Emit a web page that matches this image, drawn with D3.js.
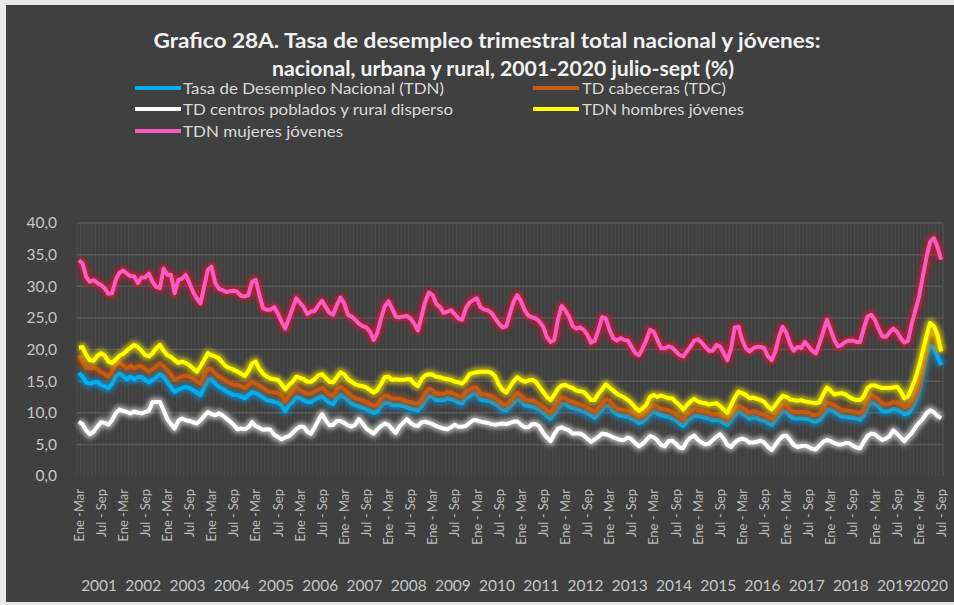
<!DOCTYPE html>
<html>
<head>
<meta charset="utf-8">
<script src="https://cdn.jsdelivr.net/npm/d3@7"></script>
<style>
  body { margin: 0; background: #ffffff; }
  svg { display: block; }
  text { font-family: Lato, "Open Sans", sans-serif; }
</style>
</head>
<body>
<div id="chart"></div>
<script>
// trimestres móviles, Ene-Mar 2001 ... Jul-Sep 2020 (235 puntos)
const years = ["2001","2002","2003","2004","2005","2006","2007","2008","2009","2010",
  "2011","2012","2013","2014","2015","2016","2017","2018","2019","2020"];

// one label every 6 periods
const tickLabels = [
  "Ene -Mar","Jul - Sep","Ene -Mar","Jul - Sep","Ene -Mar","Jul - Sep","Ene -Mar","Jul - Sep",
  "Ene -Mar","Jul - Sep","Ene -Mar","Jul - Sep","Ene - Mar","Jul - Sep","Ene - Mar","Jul - Sep",
  "Ene - Mar","Jul - Sep","Ene - Mar","Jul - Sep","Ene - Mar","Jul - Sep","Ene - Mar","Jul - Sep",
  "Ene - Mar","Jul - Sep","Ene - Mar","Jul - Sep","Ene - Mar","Jul - Sep","Ene - Mar","Jul - Sep",
  "Ene - Mar","Jul - Sep","Ene - Mar","Jul - Sep","Ene - Mar","Jul - Sep","Ene - Mar","Jul - Sep"
];

const tdn = [
  16.3,15.7,14.8,14.6,14.8,14.9,14.4,14.2,13.9,14.6,15.8,16.2,
  15.8,15.3,15.7,15.3,15.6,15.7,15.2,14.8,15.2,15.6,16.1,15.7,
  14.9,14.1,13.3,13.7,13.9,14.1,13.9,13.6,13.2,12.8,14.1,15.2,
  15.3,14.6,14.1,13.8,13.4,13.1,12.8,12.8,12.6,12.3,12.8,13.3,
  13.1,12.8,12.4,12.0,11.9,11.7,11.6,11.2,10.3,11.2,11.7,12.5,
  12.3,12.0,11.7,11.7,12.1,12.4,12.6,12.1,11.6,11.4,12.3,12.8,
  12.5,12.0,11.5,11.2,11.0,10.8,10.6,10.3,10.0,10.2,11.1,11.6,
  11.6,11.2,11.2,11.2,11.1,10.9,10.7,10.5,10.4,11.0,12.0,12.7,
  12.5,12.0,12.0,12.0,12.3,12.2,12.0,11.6,11.5,12.3,12.6,13.1,
  13.0,12.1,12.0,11.9,11.7,11.4,11.0,10.5,10.4,11.0,11.6,12.2,
  11.8,11.2,11.1,11.0,10.8,10.5,10.0,9.5,9.1,9.8,10.7,11.4,
  11.4,11.0,10.8,10.6,10.4,10.2,9.9,9.6,9.2,9.9,10.5,11.2,
  11.0,10.2,9.8,9.6,9.5,9.4,9.1,8.8,8.4,8.6,9.1,9.8,
  10.2,9.9,9.6,9.5,9.4,9.1,8.8,8.3,7.9,8.7,9.1,9.6,
  9.5,9.4,9.2,9.1,8.8,8.9,8.8,8.4,8.1,8.9,9.6,10.3,
  9.9,9.5,9.1,9.3,9.2,8.9,8.8,8.4,8.1,8.8,9.6,10.3,
  10.2,9.5,9.1,9.1,9.1,9.1,9.0,8.7,8.6,8.9,9.6,10.5,
  10.5,10.2,9.8,9.4,9.4,9.3,9.2,9.1,8.9,9.6,11.0,11.7,
  11.4,11.0,10.3,10.2,10.3,10.6,10.5,10.2,9.8,9.9,10.6,11.8,
  13.4,16.0,19.2,20.6,20.3,18.9,17.5
];

const tdc = [
  19.1,18.0,17.1,17.0,17.1,16.9,16.4,16.1,15.7,16.5,17.6,17.9,
  17.5,17.0,17.4,17.0,17.3,17.4,16.9,16.5,16.9,17.3,17.8,17.4,
  16.7,16.0,15.2,15.5,15.7,15.9,15.7,15.4,15.0,14.6,15.9,16.9,
  16.9,16.2,15.7,15.4,15.0,14.7,14.4,14.4,14.2,13.9,14.4,14.9,
  14.6,14.3,13.9,13.5,13.3,13.2,13.1,12.7,11.8,12.7,13.2,14.0,
  13.6,13.3,13.0,13.0,13.4,13.7,13.9,13.4,12.9,12.7,13.6,14.1,
  13.7,13.2,12.6,12.3,12.1,11.9,11.7,11.4,11.1,11.3,12.2,12.7,
  12.6,12.2,12.2,12.2,12.0,11.8,11.7,11.5,11.4,12.0,13.1,13.8,
  13.5,13.0,13.0,13.0,13.3,13.2,13.0,12.6,12.5,13.3,13.6,14.0,
  13.9,13.0,12.9,12.8,12.6,12.3,11.9,11.4,11.2,11.8,12.5,13.2,
  12.7,12.1,12.0,11.9,11.7,11.4,10.9,10.4,10.0,10.7,11.6,12.4,
  12.3,11.9,11.7,11.5,11.3,11.1,10.8,10.5,10.1,10.8,11.4,12.1,
  11.9,11.1,10.7,10.5,10.4,10.3,10.0,9.7,9.3,9.5,10.0,10.7,
  11.2,10.9,10.6,10.5,10.4,10.1,9.8,9.3,8.9,9.7,10.1,10.6,
  10.4,10.3,10.1,10.0,9.7,9.8,9.7,9.3,9.0,9.8,10.5,11.1,
  10.8,10.4,10.0,10.2,10.1,9.8,9.7,9.3,9.0,9.7,10.5,11.2,
  11.2,10.5,10.1,10.1,10.1,10.1,10.0,9.7,9.6,9.9,10.6,11.6,
  11.5,11.2,10.8,10.4,10.4,10.3,10.2,10.1,9.9,10.6,12.0,12.8,
  12.5,12.1,11.4,11.3,11.4,11.7,11.6,11.3,10.9,11.0,11.8,13.0,
  14.6,17.6,21.0,22.6,22.5,21.2,19.5
];

const rural = [
  8.6,8.2,7.2,6.6,7.0,7.8,8.5,8.4,8.1,8.8,9.9,10.5,
  10.3,10.1,9.9,10.2,10.0,9.9,10.1,10.3,11.7,11.7,11.7,10.4,
  9.0,8.2,7.5,8.7,9.1,8.8,8.7,8.5,8.3,8.8,9.5,10.1,
  9.8,9.6,9.9,9.6,9.1,8.6,8.1,7.4,7.5,7.4,7.7,8.5,
  7.9,7.6,7.3,7.4,7.3,6.5,6.2,5.8,6.1,6.3,6.8,7.4,
  7.8,7.8,7.0,6.7,7.7,8.8,9.8,8.8,8.0,8.1,8.7,8.7,
  8.4,8.0,7.8,8.1,9.0,8.3,7.5,7.1,6.7,7.4,7.9,8.3,
  8.1,7.4,6.8,7.8,8.4,9.0,8.4,8.0,7.9,8.5,8.6,8.4,
  8.2,7.9,7.7,7.5,7.4,7.7,8.1,7.8,7.8,7.9,8.4,8.8,
  8.8,8.6,8.5,8.4,8.2,8.1,8.2,8.3,8.2,8.4,8.6,8.6,
  8.1,7.7,7.7,8.2,8.2,7.8,6.8,6.1,5.5,6.6,7.5,7.7,
  7.4,7.2,6.7,6.7,6.7,6.4,5.9,5.4,5.8,6.2,6.7,6.6,
  6.4,6.1,5.9,5.7,5.7,6.1,5.8,5.2,4.7,5.1,5.7,6.3,
  6.1,5.6,4.9,4.7,5.5,5.6,5.1,4.5,4.4,5.5,6.1,6.4,
  5.7,5.3,5.0,5.1,5.7,6.2,6.6,5.9,4.9,4.6,5.3,5.7,
  5.9,5.7,5.3,5.3,5.4,5.6,5.3,4.6,4.1,4.9,5.7,6.3,
  6.4,5.7,4.9,4.6,4.7,4.8,4.6,4.3,4.2,4.8,5.4,5.7,
  5.5,5.2,5.0,5.0,5.2,5.2,4.8,4.5,4.4,5.4,6.3,6.7,
  6.6,6.1,5.7,5.9,6.3,7.2,6.7,6.1,5.5,6.2,6.8,7.7,
  8.4,9.0,9.9,10.4,10.1,9.5,9.1
];

const hombres = [
  20.3,20.4,19.1,18.3,18.2,19.0,19.4,19.1,18.1,17.9,18.4,19.0,
  19.3,19.8,20.3,20.7,20.4,19.8,19.1,18.9,19.4,20.2,20.7,19.8,
  19.1,18.8,18.3,17.9,18.1,17.9,17.5,17.0,16.5,17.3,18.3,19.4,
  19.1,18.9,18.6,17.9,17.3,17.0,16.8,16.5,16.2,15.8,16.6,17.8,
  18.1,16.9,16.2,15.7,15.4,15.3,15.2,14.5,13.7,14.4,14.9,15.7,
  15.5,15.3,14.9,14.9,15.3,15.9,16.1,15.5,14.9,14.8,15.6,16.4,
  16.1,15.3,14.9,14.5,14.3,14.2,14.0,13.6,13.2,13.6,14.5,15.6,
  15.7,15.2,15.3,15.2,15.2,15.3,15.3,14.6,14.2,15.3,15.9,16.1,
  16.0,15.7,15.6,15.4,15.3,15.2,14.9,14.8,14.6,15.2,16.1,16.3,
  16.4,16.5,16.5,16.5,16.3,15.7,14.4,13.6,13.2,14.1,15.0,15.6,
  15.2,14.9,15.1,15.2,14.9,14.1,13.3,12.5,12.0,12.8,13.8,14.3,
  14.4,14.1,13.9,13.5,13.4,13.3,12.7,12.0,12.0,13.0,13.7,14.5,
  14.0,13.5,13.0,12.7,12.4,12.0,11.5,10.8,10.3,10.7,11.3,12.5,
  12.8,12.5,12.7,12.5,12.3,12.3,11.7,11.2,10.5,11.2,11.8,12.2,
  11.8,11.6,11.5,11.3,11.4,11.5,11.1,10.5,10.0,11.2,12.4,13.3,
  13.1,12.8,12.3,12.4,12.2,12.0,11.7,11.0,10.5,11.2,12.0,12.7,
  12.5,12.1,12.0,11.9,12.0,11.8,11.7,11.6,11.5,11.7,12.9,14.0,
  13.5,12.9,13.0,13.1,12.9,12.5,12.2,12.0,12.0,12.6,13.9,14.3,
  14.3,14.1,13.9,13.9,13.9,14.0,14.1,13.4,12.3,12.6,13.9,15.4,
  17.4,19.7,22.1,24.2,23.7,22.3,19.7
];

const mujeres = [
  34.1,33.6,31.5,30.7,31.0,30.5,30.2,29.7,28.8,28.9,31.0,32.1,
  32.5,32.0,31.6,31.6,30.5,31.4,31.4,32.0,30.7,29.9,29.7,32.8,
  31.8,31.8,28.9,31.0,31.2,31.8,30.5,29.1,28.1,27.3,29.9,32.6,
  33.1,30.5,29.6,29.4,29.1,29.2,29.3,29.1,28.5,28.4,28.6,30.7,
  31.0,28.6,26.5,26.3,26.3,26.7,25.7,24.4,23.3,24.9,26.5,28.1,
  27.4,26.7,25.6,26.0,26.1,27.0,27.7,26.7,25.8,25.5,27.0,28.2,
  27.3,25.5,25.2,24.7,24.1,23.7,23.5,22.8,21.5,22.6,24.9,26.8,
  27.6,26.5,25.2,25.1,25.2,25.3,24.9,24.1,23.0,25.2,27.6,29.0,
  28.6,27.2,26.7,25.8,26.0,26.2,25.6,24.9,24.7,26.5,27.4,27.8,
  28.1,26.7,26.3,26.2,25.8,24.9,24.1,23.5,23.7,25.7,27.6,28.6,
  27.6,26.2,25.3,25.1,24.9,24.4,23.6,22.0,21.2,21.5,24.7,26.9,
  26.2,25.2,23.7,23.3,23.5,23.1,22.3,21.1,21.4,23.1,25.1,24.9,
  23.1,21.8,21.4,21.8,21.5,21.4,20.4,19.4,19.1,20.2,21.5,23.1,
  22.8,21.5,20.2,20.2,20.5,20.3,19.7,19.1,18.9,19.7,20.5,21.4,
  21.6,21.1,20.4,19.8,19.8,20.7,20.5,19.4,18.3,20.2,23.5,23.6,
  21.5,20.2,19.7,20.2,20.4,20.4,20.2,18.9,18.3,19.7,22.0,23.6,
  22.6,20.9,19.8,20.4,20.2,21.2,20.5,19.8,19.4,21.0,22.8,24.7,
  23.1,21.5,20.5,20.7,21.2,21.4,21.4,21.2,21.2,23.3,25.2,25.5,
  24.7,23.3,22.1,22.0,22.7,23.3,22.8,21.8,21.1,21.4,24.0,26.2,
  28.3,31.5,34.5,37.0,37.6,36.2,34.2
];

const series = [
  { name: "Tasa de Desempleo Nacional (TDN)", values: tdn, color: "#00b0f0", glow: "#0094e0" },
  { name: "TD cabeceras (TDC)", values: tdc, color: "#c55a11", glow: "#b04e0c" },
  { name: "TD centros poblados y rural disperso", values: rural, color: "#ffffff", glow: "#d4d4d4" },
  { name: "TDN hombres jóvenes", values: hombres, color: "#ffff00", glow: "#e8d800" },
  { name: "TDN mujeres jóvenes", values: mujeres, color: "#f75cc0", glow: "#e0102c" }
];

const width = 954, height = 605;
const plot = { left: 77, right: 943, top: 223, bottom: 476 };
const n = tdn.length;

const svg = d3.select("#chart")
  .append("svg")
  .attr("width", width)
  .attr("height", height);

const defs = svg.append("defs");
defs.append("filter")
  .attr("id", "glow")
  .attr("x", "-5%").attr("y", "-20%")
  .attr("width", "110%").attr("height", "140%")
  .append("feGaussianBlur")
  .attr("stdDeviation", 2);

// chart background
svg.append("rect")
  .attr("width", width).attr("height", height)
  .attr("fill", "#e9e9e9");
svg.append("rect")
  .attr("x", 6).attr("y", 5)
  .attr("width", width - 6).attr("height", height - 8)
  .attr("fill", "#404040");

const x = d3.scalePoint()
  .domain(d3.range(n))
  .range([plot.left, plot.right])
  .padding(0.5);

const y = d3.scaleLinear()
  .domain([0, 40])
  .range([plot.bottom, plot.top]);

const es = d3.formatLocale({ decimal: ",", thousands: ".", grouping: [3], currency: ["", ""] });
const fmt = es.format(".1f");

// vertical grid (one per category)
svg.append("g")
  .selectAll("line")
  .data(d3.range(n + 1))
  .join("line")
  .attr("x1", d => plot.left + d * x.step())
  .attr("x2", d => plot.left + d * x.step())
  .attr("y1", plot.top)
  .attr("y2", plot.bottom)
  .attr("stroke", "#4a4a4a")
  .attr("stroke-width", 1);

// horizontal grid
svg.append("g")
  .selectAll("line")
  .data(d3.range(5, 41, 5))
  .join("line")
  .attr("x1", plot.left)
  .attr("x2", plot.right)
  .attr("y1", d => y(d))
  .attr("y2", d => y(d))
  .attr("stroke", "#5a5a5a")
  .attr("stroke-width", 1.5);

svg.append("line")
  .attr("x1", plot.right).attr("x2", plot.right)
  .attr("y1", plot.top).attr("y2", plot.bottom)
  .attr("stroke", "#555555");

// y axis
const yAxis = svg.append("g")
  .attr("transform", `translate(${plot.left},0)`)
  .call(d3.axisLeft(y).tickValues(d3.range(0, 41, 5)).tickFormat(fmt).tickSize(0).tickPadding(20));
yAxis.select(".domain").remove();
yAxis.selectAll("text")
  .attr("fill", "#c6c6c6")
  .style("font-size", "15.5px");

// x tick labels, rotated
svg.append("g")
  .selectAll("text")
  .data(tickLabels)
  .join("text")
  .attr("transform", (d, k) => `translate(${x(k * 6)},489) rotate(-90)`)
  .attr("dy", "0.36em")
  .attr("text-anchor", "end")
  .attr("fill", "#bdbdbd")
  .style("font-size", "13px")
  .text(d => d);

// year labels
svg.append("g")
  .selectAll("text")
  .data(years)
  .join("text")
  .attr("x", (d, k) => (x(k * 12) + x(Math.min(k * 12 + 11, n - 1))) / 2)
  .attr("y", 591)
  .attr("text-anchor", "middle")
  .attr("fill", "#c6c6c6")
  .style("font-size", "15.5px")
  .text(d => d);

// lines
const line = d3.line()
  .x((d, i) => x(i))
  .y(d => y(d))
  .curve(d3.curveLinear);

const lines = svg.append("g");
for (const s of series) {
  lines.append("path")
    .attr("d", line(s.values))
    .attr("fill", "none")
    .attr("stroke", s.glow)
    .attr("stroke-width", 9)
    .attr("stroke-opacity", 0.7)
    .attr("stroke-linejoin", "round")
    .attr("filter", "url(#glow)");
  lines.append("path")
    .attr("d", line(s.values))
    .attr("fill", "none")
    .attr("stroke", s.color)
    .attr("stroke-width", 4)
    .attr("stroke-linejoin", "round");
}

// title
const title = [
  { text: "Grafico 28A. Tasa de desempleo trimestral total nacional y jóvenes:", cx: 487, y: 48, len: 667 },
  { text: "nacional, urbana y rural, 2001-2020 julio-sept (%)", cx: 503, y: 76, len: 462 }
];
svg.append("g")
  .selectAll("text")
  .data(title)
  .join("text")
  .attr("x", d => d.cx - d.len / 2)
  .attr("y", d => d.y)
  .attr("textLength", d => d.len)
  .attr("lengthAdjust", "spacingAndGlyphs")
  .attr("fill", "#f2f2f2")
  .style("font-size", "21px")
  .style("font-weight", "bold")
  .text(d => d.text);

// legend
const legendPos = [
  { sx: 135, tx: 183, cy: 88, len: 261 },
  { sx: 533, tx: 582, cy: 88, len: 144 },
  { sx: 135, tx: 183, cy: 109, len: 270 },
  { sx: 533, tx: 582, cy: 109, len: 162 },
  { sx: 135, tx: 183, cy: 131, len: 160 }
];
const legend = svg.append("g")
  .selectAll("g")
  .data(series)
  .join("g");
legend.append("line")
  .attr("x1", (d, k) => legendPos[k].sx)
  .attr("x2", (d, k) => legendPos[k].sx + 46)
  .attr("y1", (d, k) => legendPos[k].cy)
  .attr("y2", (d, k) => legendPos[k].cy)
  .attr("stroke", d => d.glow)
  .attr("stroke-opacity", 0.6)
  .attr("stroke-width", 8)
  .attr("filter", "url(#glow)");
legend.append("line")
  .attr("x1", (d, k) => legendPos[k].sx)
  .attr("x2", (d, k) => legendPos[k].sx + 46)
  .attr("y1", (d, k) => legendPos[k].cy)
  .attr("y2", (d, k) => legendPos[k].cy)
  .attr("stroke", d => d.color)
  .attr("stroke-width", 4);
legend.append("text")
  .attr("x", (d, k) => legendPos[k].tx)
  .attr("y", (d, k) => legendPos[k].cy + 5.5)
  .attr("textLength", (d, k) => legendPos[k].len)
  .attr("lengthAdjust", "spacingAndGlyphs")
  .attr("fill", "#d9d9d9")
  .style("font-size", "15px")
  .text(d => d.name);
</script>
</body>
</html>
